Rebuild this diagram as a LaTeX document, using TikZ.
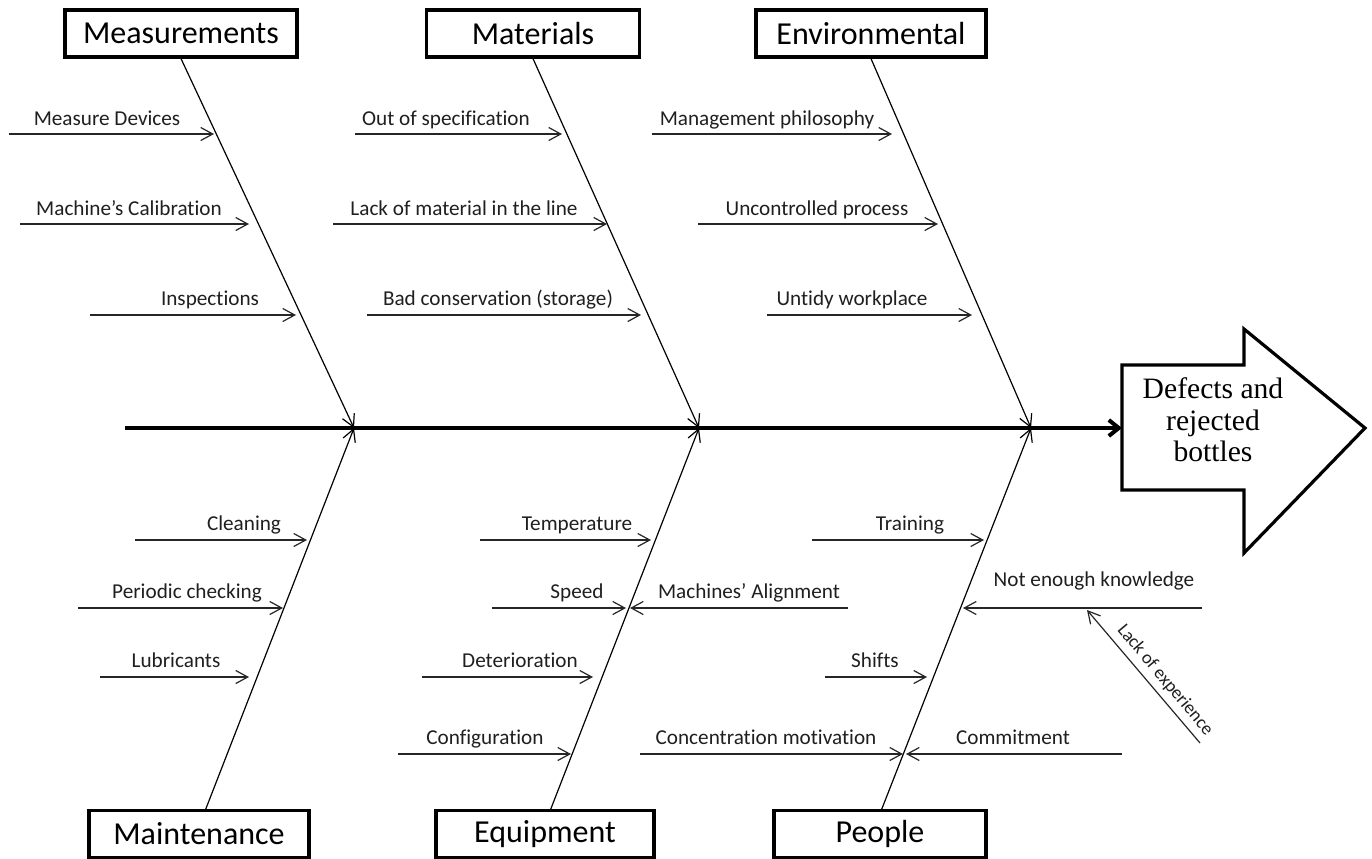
\documentclass[tikz,border=0pt]{standalone}
\usepackage{fontspec}
\setmainfont{Carlito}[Ligatures=NoCommon]
\newfontfamily\effserif{Liberation Serif}
\usetikzlibrary{arrows.meta}
\newcommand\causearrow[7]{%
  \coordinate (#1t) at (#2,#4);
  \coordinate (#1h) at (#3,#4);
  \draw[sub] (#1t) -- (#1h);
  \node[lbl,anchor=base] (#1l) at (#5,#6) {#7};}
\begin{document}
\begin{tikzpicture}[x=0.5pt,y=-0.5pt,
  catbox/.style={draw,line width=1.6pt,minimum height=23.5pt,inner sep=0pt,
    font=\fontsize{16}{19}\selectfont},
  lbl/.style={font=\fontsize{10.6}{12}\selectfont,inner sep=0pt,text=black!88},
  sub/.style={line width=0.6pt,draw=black!85,-{Straight Barb[length=6pt,width=6.5pt]}},
  bone/.style={line width=0.6pt,-{Straight Barb[length=6pt,width=6.5pt]}},
  spine/.style={line width=2pt,-{Straight Barb[length=5pt,width=8pt]}}]
\useasboundingbox (0,0) rectangle (1372,858);

% category boxes
\node[catbox,minimum width=116pt] (meas) at (181,33.5) {Measurements};
\node[catbox,minimum width=106.5pt] (mat) at (533,33.5) {Materials};
\node[catbox,minimum width=115pt] (env) at (871,33.5) {Environmental};
\node[catbox,minimum width=110pt] (maint) at (199,834) {Maintenance};
\node[catbox,minimum width=109pt] (equip) at (545,834) {Equipment};
\node[catbox,minimum width=106pt] (people) at (880,834) {People};
\coordinate (maintT) at (205,811);
\coordinate (equipT) at (550,811);
\coordinate (peopleT) at (881,811);

% effect arrow
\coordinate (e1) at (1122,365);
\coordinate (e2) at (1244,365);
\coordinate (e3) at (1244,329);
\coordinate (e4) at (1365,428);
\coordinate (e5) at (1244,553);
\coordinate (e6) at (1244,490);
\coordinate (e7) at (1122,490);
\coordinate (effL) at (1122,428);
\draw[line width=1.6pt,line join=miter] (e1) -- (e2) -- (e3) -- (e4) -- (e5) -- (e6) -- (e7) -- cycle;
\node[font=\effserif\fontsize{14.8}{15.8}\selectfont,align=center,inner sep=0pt] (eff) at (1213,420)
  {Defects and\\rejected\\bottles};

% spine
\coordinate (s0) at (125,428);
\coordinate (j1) at (354,428);
\coordinate (j2) at (699,428);
\coordinate (j3) at (1031,428);
\draw[spine] (s0) -- (effL);

% bones
\draw[bone] (meas.south) -- (j1);
\draw[bone] (mat.south) -- (j2);
\draw[bone] (env.south) -- (j3);
\draw[bone] (maintT) -- (j1);
\draw[bone] (equipT) -- (j2);
\draw[bone] (peopleT) -- (j3);

% causes (label given by its baseline)
\causearrow{md}{9}{214}{134}{107}{125}{Measure Devices}
\causearrow{mc}{20}{249}{224}{129}{215}{Machine’s Calibration}
\causearrow{ins}{90}{296}{315}{210}{305}{Inspections}
\causearrow{os}{355}{562}{134}{446}{125}{Out of specification}
\causearrow{lm}{333}{607}{224}{464}{215}{Lack of material in the line}
\causearrow{bc}{367}{641}{315}{498}{305}{Bad conservation (storage)}
\causearrow{mp}{652}{892}{134}{767}{125}{Management philosophy}
\causearrow{up}{698}{938}{224}{817}{215}{Uncontrolled process}
\causearrow{uw}{767}{972}{315}{852}{305}{Untidy workplace}
\causearrow{cl}{135}{307}{540}{244}{530}{Cleaning}
\causearrow{pc}{78}{283}{608}{187}{598}{Periodic checking}
\causearrow{lu}{100}{249}{677}{176}{667}{Lubricants}
\causearrow{te}{480}{651}{540}{577}{530}{Temperature}
\causearrow{sp}{492}{626}{608}{577}{598}{Speed}
\causearrow{ma}{848}{630}{608}{749}{598}{Machines’ Alignment}
\causearrow{de}{422}{593}{677}{520}{667}{Deterioration}
\causearrow{co}{398}{571}{754}{485}{744}{Configuration}
\causearrow{tr}{812}{984}{540}{910}{530}{Training}
\causearrow{ne}{1202}{963}{608}{1094}{586}{Not enough knowledge}
\causearrow{sh}{825}{927}{677}{875}{667}{Shifts}
\causearrow{cm}{640}{903}{754}{766}{744}{Concentration motivation}
\causearrow{cmt}{1122}{906}{754}{1013}{744}{Commitment}

% sub-cause
\coordinate (lxt) at (1200,743);
\coordinate (lxh) at (1087,610);
\draw[sub] (lxt) -- (lxh);
\node[lbl,font=\fontsize{9.2}{11}\selectfont,rotate=-50] (lxl) at (1165,680) {Lack of experience};
\end{tikzpicture}
\end{document}
